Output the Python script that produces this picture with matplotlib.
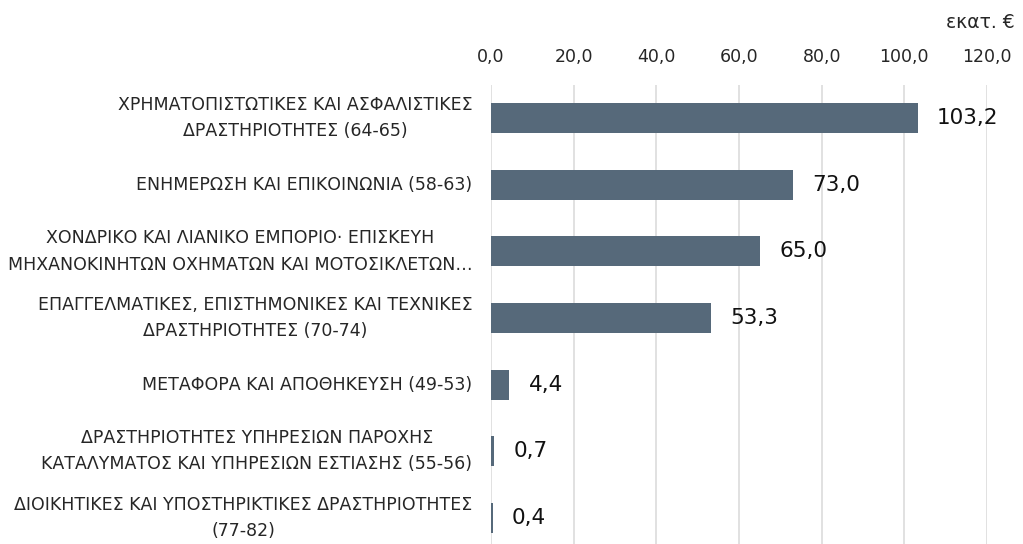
import matplotlib.pyplot as plt
from matplotlib.ticker import FuncFormatter

# sectors, top to bottom
labels = [
    "ΧΡΗΜΑΤΟΠΙΣΤΩΤΙΚΕΣ ΚΑΙ ΑΣΦΑΛΙΣΤΙΚΕΣ\nΔΡΑΣΤΗΡΙΟΤΗΤΕΣ (64-65)",
    "ΕΝΗΜΕΡΩΣΗ ΚΑΙ ΕΠΙΚΟΙΝΩΝΙΑ (58-63)",
    "ΧΟΝΔΡΙΚΟ ΚΑΙ ΛΙΑΝΙΚΟ ΕΜΠΟΡΙΟ· ΕΠΙΣΚΕΥΗ\nΜΗΧΑΝΟΚΙΝΗΤΩΝ ΟΧΗΜΑΤΩΝ ΚΑΙ ΜΟΤΟΣΙΚΛΕΤΩΝ…",
    "ΕΠΑΓΓΕΛΜΑΤΙΚΕΣ, ΕΠΙΣΤΗΜΟΝΙΚΕΣ ΚΑΙ ΤΕΧΝΙΚΕΣ\nΔΡΑΣΤΗΡΙΟΤΗΤΕΣ (70-74)",
    "ΜΕΤΑΦΟΡΑ ΚΑΙ ΑΠΟΘΗΚΕΥΣΗ (49-53)",
    "ΔΡΑΣΤΗΡΙΟΤΗΤΕΣ ΥΠΗΡΕΣΙΩΝ ΠΑΡΟΧΗΣ\nΚΑΤΑΛΥΜΑΤΟΣ ΚΑΙ ΥΠΗΡΕΣΙΩΝ ΕΣΤΙΑΣΗΣ (55-56)",
    "ΔΙΟΙΚΗΤΙΚΕΣ ΚΑΙ ΥΠΟΣΤΗΡΙΚΤΙΚΕΣ ΔΡΑΣΤΗΡΙΟΤΗΤΕΣ\n(77-82)",
]
values = [103.2, 73.0, 65.0, 53.3, 4.4, 0.7, 0.4]
xticks = [0, 20, 40, 60, 80, 100, 120]

plt.rcParams['font.family'] = ["DejaVu Sans"]

fig = plt.figure(figsize=(10.23, 5.44), dpi=100)
ax = fig.add_axes([491/1023, -7/544, 496/1023, 466/544])

pos = list(range(len(values)))
ax.barh(pos, values, height=0.45, color="#56697a", zorder=3)
ax.set_ylim(len(values) - 0.5, -0.5)
ax.set_xlim(0, 120)
ax.set_xticks(xticks)
ax.xaxis.set_major_formatter(FuncFormatter(lambda v, p: f"{v:.1f}".replace(".", ",")))
ax.xaxis.tick_top()
ax.grid(axis="x", color="#d9d9d9", linewidth=1.1, zorder=0)
for s in ax.spines.values():
    s.set_visible(False)
ax.tick_params(axis="x", length=0, pad=14, labelsize=12.5, colors="#262626")
ax.tick_params(axis="y", length=0, pad=13.5)
ax.set_yticks(pos)
ax.set_yticklabels(labels, fontsize=12.5, multialignment="center", linespacing=1.6, color="#262626")
for t in ax.get_yticklabels():
    t.set_va("center")

for p, v in zip(pos, values):
    ax.annotate(f"{v:.1f}".replace(".", ","), (v, p), xytext=(14, 0), textcoords="offset points",
                va="center", ha="left", fontsize=15.5, color="#111111")

fig.text(1015/1023, 1 - 22/544, "εκατ. €", ha="right", va="center", fontsize=13.5, color="#262626")

fig.savefig("out.png", dpi=100)
